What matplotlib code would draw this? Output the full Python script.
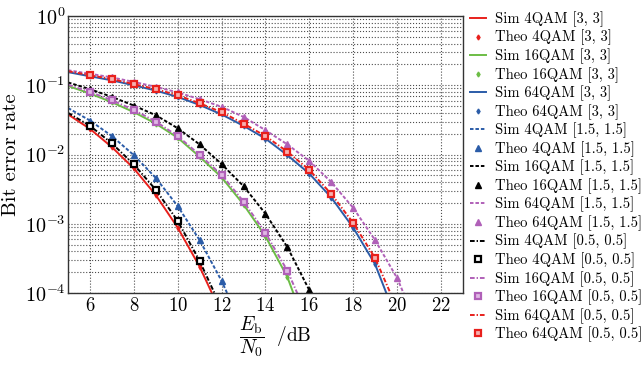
import matplotlib
matplotlib.use("Agg")
import matplotlib.pyplot as plt
from matplotlib.ticker import FixedLocator, FixedFormatter, NullFormatter

plt.rcParams['font.family'] = ['cmr10', 'DejaVu Serif']
plt.rcParams['mathtext.fontset'] = 'cm'
plt.rcParams['axes.formatter.use_mathtext'] = True
plt.rcParams['axes.unicode_minus'] = False

# ---- data ----
x4 = [5, 6, 7, 8, 9, 10, 11, 12]
sim4_33 = [0.038, 0.0235, 0.0128, 0.0063, 0.0026, 0.00088, 0.00024, 0.00005]
sim4_05 = [0.040, 0.026, 0.0145, 0.0072, 0.0031, 0.0011, 0.00029, 0.00006]
x4b = [5, 6, 7, 8, 9, 10, 11, 12, 13]
sim4_15 = [0.047, 0.031, 0.0185, 0.0098, 0.0046, 0.0018, 0.00058, 0.00015, 0.00003]

x16 = [5, 6, 7, 8, 9, 10, 11, 12, 13, 14, 15, 16]
sim16_33 = [0.098, 0.076, 0.057, 0.041, 0.028, 0.0175, 0.0093, 0.0047, 0.0019, 0.00066, 0.00017, 0.000024]
sim16_05 = [0.102, 0.080, 0.061, 0.044, 0.030, 0.0185, 0.0099, 0.0051, 0.0021, 0.00074, 0.00021, 0.00004]
x16b = [5, 6, 7, 8, 9, 10, 11, 12, 13, 14, 15, 16, 17]
sim16_15 = [0.11, 0.088, 0.068, 0.051, 0.037, 0.024, 0.014, 0.0073, 0.0035, 0.0014, 0.00046, 0.00011, 0.00002]

x64 = [5, 6, 7, 8, 9, 10, 11, 12, 13, 14, 15, 16, 17, 18, 19, 20]
sim64_33 = [0.155, 0.135, 0.118, 0.10, 0.084, 0.068, 0.052, 0.038, 0.026, 0.017, 0.0098, 0.0053, 0.0024, 0.00088, 0.00026, 0.00004]
sim64_05 = [0.16, 0.14, 0.123, 0.104, 0.088, 0.072, 0.055, 0.041, 0.028, 0.0185, 0.011, 0.006, 0.0027, 0.00103, 0.00032, 0.00006]
x64b = [5, 6, 7, 8, 9, 10, 11, 12, 13, 14, 15, 16, 17, 18, 19, 20, 21]
sim64_15 = [0.165, 0.147, 0.13, 0.112, 0.095, 0.079, 0.063, 0.049, 0.035, 0.0225, 0.014, 0.0081, 0.004, 0.0017, 0.00058, 0.000165, 0.00003]

xticks = [6, 8, 10, 12, 14, 16, 18, 20, 22]
yticks = [1e-4, 1e-3, 1e-2, 1e-1, 1e0]
ytick_labels = [r'$10^{-4}$', r'$10^{-3}$', r'$10^{-2}$', r'$10^{-1}$', r'$10^{0}$']
yminor = [m * d for d in [1e-4, 1e-3, 1e-2, 1e-1] for m in range(2, 10)]

RED = '#e8201c'
GREEN = '#6cbd45'
BLUE = '#2b5ca8'
PURPLE = '#b060b8'
BLACK = '#000000'

DASH = (1.8, 1.0)
DASHDOT = (2.4, 1.0, 0.7, 1.0)

fig = plt.figure(figsize=(6.42, 3.65), dpi=100)
ax = fig.add_axes([0.106, 0.197, 0.615, 0.759])

def theo(x, y):
    # theoretical points at integer SNRs (skip the first value at 5 dB)
    return x[1:], y[1:]

lw = 1.4
handles = []
# Sim / Theo [3,3]
h, = ax.plot(x4, sim4_33, '-', color=RED, lw=lw, label='Sim 4QAM [3, 3]'); handles.append(h)
tx, ty = theo(x4, sim4_33)
h, = ax.plot(tx, ty, 'd', color=RED, ms=2.5, ls='none', label='Theo 4QAM [3, 3]'); handles.append(h)
h, = ax.plot(x16, sim16_33, '-', color=GREEN, lw=lw, label='Sim 16QAM [3, 3]'); handles.append(h)
tx, ty = theo(x16, sim16_33)
h, = ax.plot(tx, ty, 'd', color=GREEN, ms=2.5, ls='none', label='Theo 16QAM [3, 3]'); handles.append(h)
h, = ax.plot(x64, sim64_33, '-', color=BLUE, lw=lw, label='Sim 64QAM [3, 3]'); handles.append(h)
tx, ty = theo(x64, sim64_33)
h, = ax.plot(tx, ty, 'd', color=BLUE, ms=2.5, ls='none', label='Theo 64QAM [3, 3]'); handles.append(h)
# [1.5,1.5]
h, = ax.plot(x4b, sim4_15, color=BLUE, lw=lw, dashes=DASH, label='Sim 4QAM [1.5, 1.5]'); handles.append(h)
tx, ty = theo(x4b, sim4_15)
h, = ax.plot(tx, ty, '^', color=BLUE, ms=5, ls='none', label='Theo 4QAM [1.5, 1.5]'); handles.append(h)
h, = ax.plot(x16b, sim16_15, color=BLACK, lw=lw, dashes=DASH, label='Sim 16QAM [1.5, 1.5]'); handles.append(h)
tx, ty = theo(x16b, sim16_15)
h, = ax.plot(tx, ty, '^', color=BLACK, ms=5, ls='none', label='Theo 16QAM [1.5, 1.5]'); handles.append(h)
h, = ax.plot(x64b, sim64_15, color=PURPLE, lw=lw, dashes=DASH, label='Sim 64QAM [1.5, 1.5]'); handles.append(h)
tx, ty = theo(x64b, sim64_15)
h, = ax.plot(tx, ty, '^', color=PURPLE, ms=5, ls='none', label='Theo 64QAM [1.5, 1.5]'); handles.append(h)
# [0.5,0.5]
h, = ax.plot(x4, sim4_05, color=BLACK, lw=lw, dashes=DASHDOT, label='Sim 4QAM [0.5, 0.5]'); handles.append(h)
tx, ty = theo(x4, sim4_05)
h, = ax.plot(tx, ty, 's', color=BLACK, mfc='white', mew=1.6, ms=4.5, ls='none', label='Theo 4QAM [0.5, 0.5]'); handles.append(h)
h, = ax.plot(x16, sim16_05, color=PURPLE, lw=lw, dashes=DASHDOT, label='Sim 16QAM [0.5, 0.5]'); handles.append(h)
tx, ty = theo(x16, sim16_05)
h, = ax.plot(tx, ty, 's', color=PURPLE, mfc='#e0b8e4', mew=1.6, ms=4.5, ls='none', label='Theo 16QAM [0.5, 0.5]'); handles.append(h)
h, = ax.plot(x64, sim64_05, color=RED, lw=lw, dashes=DASHDOT, label='Sim 64QAM [0.5, 0.5]'); handles.append(h)
tx, ty = theo(x64, sim64_05)
h, = ax.plot(tx, ty, 's', color=RED, mfc='#f6b0b0', mew=1.6, ms=4.5, ls='none', label='Theo 64QAM [0.5, 0.5]'); handles.append(h)

ax.set_yscale('log')
ax.set_xlim(5, 23)
ax.set_ylim(1e-4, 1)
ax.xaxis.set_major_locator(FixedLocator(xticks))
ax.yaxis.set_major_locator(FixedLocator(yticks))
ax.yaxis.set_major_formatter(FixedFormatter(ytick_labels))
ax.yaxis.set_minor_locator(FixedLocator(yminor))
ax.yaxis.set_minor_formatter(NullFormatter())
ax.grid(True, which='major', axis='both', ls=':', color='0.3', lw=0.8)
ax.grid(True, which='minor', axis='y', ls=':', color='0.3', lw=0.8)
ax.tick_params(axis='both', which='both', direction='in', length=0)
ax.tick_params(axis='x', labelsize=13.5, pad=3)
ax.tick_params(axis='y', labelsize=14.5, pad=2)
for s in ax.spines.values():
    s.set_linewidth(1.0)
    s.set_color('0.2')

ax.set_ylabel('Bit error rate', fontsize=15, labelpad=3)
ax.set_xlabel(r'$\dfrac{E_{\mathrm{b}}}{N_0}\ \ $/dB', fontsize=14, labelpad=1)
ax.xaxis.set_label_coords(0.525, -0.075, transform=ax.transAxes)
ax.xaxis.label.set_va('top')

fig.legend(handles=handles, loc='upper left', bbox_to_anchor=(0.718, 0.995),
           frameon=False, fontsize=10.5, handlelength=1.1, handletextpad=0.6,
           labelspacing=0.2, numpoints=1, borderaxespad=0.25)

fig.savefig('out.png', dpi=100)
